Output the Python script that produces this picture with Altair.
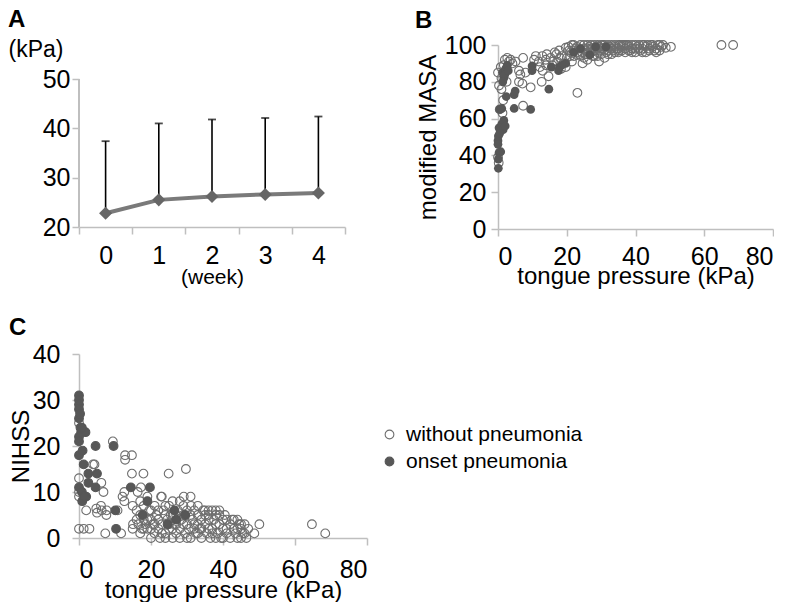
import altair as alt
import pandas as pd

FONT = "Liberation Sans"

# ---------------- Panel A: tongue pressure by week (mean, +SD) ----------------
weeks = ["0", "1", "2", "3", "4"]
tp_mean = [22.8, 25.5, 26.2, 26.6, 26.9]
tp_upper = [37.4, 41.0, 41.8, 42.1, 42.4]

# ---------------- Panel B: tongue pressure vs modified MASA ----------------
b_open = [(0, 85), (0.3, 78), (0.5, 65), (0, 39), (0.2, 36), (1.0, 76), (1.5, 70), (1.3, 63),
          (0.8, 88), (1.7, 89), (2.0, 92), (2.7, 93), (3.2, 91), (3.7, 92), (4.2, 90), (5.1, 91),
          (2.5, 80), (1.0, 82), (6.1, 86), (6.1, 80), (7.1, 79), (7.3, 93), (7.3, 67), (9.5, 77),
          (6.5, 84), (8, 85), (11, 94), (12.9, 94), (11.9, 91), (13.9, 92), (12.7, 80), (14.7, 83),
          (15.3, 93), (10.5, 92), (12.2, 88), (14.2, 95), (15.8, 89), (17, 95), (17.8, 97),
          (19.7, 98.5), (18.3, 87), (19.7, 88), (17.2, 91), (20.7, 97), (22.1, 94), (23.6, 95),
          (24.6, 90), (23.1, 74), (21, 96), (22.5, 98), (20, 93), (18.5, 94), (16.5, 96), (23, 99),
          (24, 100), (25, 98), (21.5, 91), (19, 90), (25.5, 97), (26, 100), (26.5, 99), (27, 100),
          (27.5, 98), (28, 100), (28.5, 97), (29, 100), (29.4, 91), (29.5, 99), (30, 100),
          (30.5, 98), (31, 100), (31.5, 96), (32, 100), (32.5, 99), (33, 100), (33.5, 97),
          (34, 100), (34.5, 98), (35, 100), (26, 95), (28, 94), (30, 95), (27, 96), (25, 93),
          (32, 97), (34, 96), (35.2, 97), (35.5, 100), (36, 99), (36.5, 100), (37, 98), (37.5, 100),
          (38, 99), (38.5, 97), (39, 100), (39.1, 98), (40, 100), (40.5, 99), (41, 100), (41.5, 97),
          (42, 98), (42.5, 100), (43, 99), (43.5, 100), (44, 98), (44.5, 100), (45, 99), (45.5, 97),
          (46, 96), (46.5, 100), (47, 100), (47.5, 99), (48, 100), (48.8, 98.5), (50.3, 99),
          (37, 96), (40, 96), (43, 96), (65, 100), (68.4, 100),
          (20.5, 99), (21.5, 100), (22, 97), (23.5, 98), (24.5, 96), (25, 100), (26, 98),
          (26.5, 96), (27, 98), (28, 97), (28.5, 99), (29, 96), (29.5, 97), (30, 98), (30.5, 100),
          (31, 97), (31.5, 99), (32, 95), (33, 98), (34, 99), (35, 98), (36, 97), (36, 100),
          (37, 100), (38, 97), (38, 100), (39, 96), (40, 98), (41, 98), (42, 100), (42, 96),
          (44, 97), (45, 100), (46, 98), (47, 97), (22, 100), (23, 96), (24, 94), (25.5, 95),
          (27.5, 94), (29, 94), (26, 92), (31, 93), (33, 95), (35, 96), (21, 94), (18, 93),
          (16, 91), (14, 89), (13, 86)]
b_fill = [(0.1, 33), (0.3, 41.5), (0.8, 42), (0.1, 38), (0, 48), (0.1, 50.5), (0.3, 55), (1.1, 57),
          (1.7, 59), (1.5, 54), (0.5, 65), (1.1, 65.5), (4.7, 65.5), (9.5, 65), (2.4, 72), (4.7, 73),
          (5.0, 75), (14.8, 76), (9.9, 88.6), (9.9, 86), (1.7, 82), (1.3, 85), (2.2, 87), (2.7, 89),
          (2.0, 84), (1.4, 80), (3, 86), (15.5, 88), (17.9, 88), (19.7, 90), (18.5, 89),
          (26.7, 94.6), (28.4, 99), (31.4, 99), (22, 96), (24, 98), (0.5, 52), (0, 46), (2.1, 56),
          (17.6, 86)]

# ---------------- Panel C: tongue pressure vs NIHSS ----------------
c_open = [(0, 25), (0, 13), (0, 10), (0, 9), (0, 2), (1.3, 2), (2.9, 2), (3.9, 16), (4.3, 16),
          (6.2, 12), (6.8, 10), (2, 6), (4.8, 6.4), (6.3, 6), (7.6, 5), (5, 5.5), (7.3, 1), (7.7, 6),
          (6.1, 7), (9.4, 21), (10.7, 6), (11.7, 1), (12.1, 9), (12.6, 10), (12.6, 8), (12.8, 18),
          (12.8, 17), (14.7, 18), (14.7, 14), (17.9, 14), (14.9, 7), (14.9, 2), (16.3, 10),
          (17.2, 11), (22.8, 9), (24.9, 14), (29.7, 15), (29.1, 9), (31.1, 7), (16, 4), (16.5, 3),
          (17, 5), (17.5, 2), (18, 4), (18.5, 3), (19, 2), (19.5, 6), (20, 4), (20.5, 3), (21, 1),
          (21.5, 5), (22, 2), (22.5, 0), (23, 3), (23.5, 6), (24, 1), (24.5, 4), (25, 2), (25.5, 5),
          (26, 0), (26.5, 3), (27, 1), (27.5, 6), (28, 2), (28.5, 4), (29, 3), (29.5, 1), (30, 6),
          (30.5, 2), (31, 0), (31.5, 4), (32, 3), (32.5, 1), (33, 5), (33.5, 2), (34, 0), (34.5, 6),
          (35, 3), (35.5, 1), (36, 5), (36.5, 0), (37, 2), (37.5, 4), (38, 6), (38.5, 1), (39, 3),
          (39.5, 0), (40, 2), (40.5, 5), (41, 1), (42, 0), (42.5, 4), (43, 2), (43.5, 1), (44, 0),
          (44.5, 3), (45, 2), (45.5, 1), (46, 3), (46.5, 0), (48.7, 1), (50.1, 3), (64.7, 3),
          (68.4, 1), (22, 6), (26, 5), (34, 4), (38, 5), (18, 7), (24, 7), (28, 8), (36, 6), (15, 3),
          (20, 2), (27, 3), (33, 1), (41, 4), (44, 2),
          (16, 6), (17, 1), (18, 2), (19, 4), (20, 6), (21, 3), (22, 4), (23, 1), (24, 5), (25, 3),
          (26, 2), (27, 5), (28, 0), (29, 5), (30, 3), (31, 5), (32, 2), (33, 3), (34, 2), (35, 5),
          (36, 2), (37, 1), (38, 3), (39, 5), (40, 4), (41, 2), (42, 3), (43, 4), (44, 4), (45, 3),
          (46, 1), (47, 2), (35, 6), (37, 6), (39, 6), (29, 7), (32, 6), (25, 7), (21, 7), (17, 8),
          (19, 9), (23, 9), (26, 8), (31, 9), (33, 7), (36, 4), (40, 0), (45, 0), (38, 0), (30, 0),
          (24, 0), (20, 0)]
c_fill = [(0, 31), (0, 30), (0, 29), (0, 28), (0, 26), (0.4, 24), (0.6, 23), (1.8, 23), (0.8, 24),
          (0, 22), (0, 21), (0, 18), (1, 19), (1.3, 16), (2.6, 14), (5, 14), (4.6, 20), (9.6, 20),
          (2.6, 12), (4.6, 11), (0, 11), (0.8, 10), (2, 9), (0.9, 8), (14.4, 11), (19.7, 11),
          (19, 8), (10.1, 6), (17.7, 5), (10.3, 2), (26.5, 6), (27, 4), (24.6, 3), (29.5, 5),
          (1.5, 9), (0.3, 27)]

groups = ["without pneumonia", "onset pneumonia"]
x_ticks = [0, 20, 40, 60, 80]

OPEN_COL = "#6e6e6e"
FILL_COL = "#575757"
AXIS_COL = "#bfbfbf"
PT_SIZE = 76

# ---------------- Panel A ----------------
dfA = pd.DataFrame({"week": weeks, "mean": tp_mean, "upper": tp_upper})
WA, HA = 266, 182
xA = alt.X("week:N", sort=weeks, scale=alt.Scale(paddingInner=0, paddingOuter=0),
           axis=alt.Axis(title="(week)", labelAngle=0, tickBand="extent", tickSize=7,
                         labelPadding=9, titleX=WA / 2, titleY=50, titleBaseline="middle",
                         titleFontSize=21))
# plot area extends above 50 so that the panel tops line up with panel B
yA_scale = alt.Scale(domain=[20, 56.9])
yA_axis = alt.Axis(values=[20, 30, 40, 50], title="(kPa)", titleAngle=0, titleAlign="left",
                   titleBaseline="middle", titleX=-71, titleY=4, titleFontSize=23,
                   tickSize=7, labelPadding=2, domain=False)

axis_line = alt.Chart(dfA).mark_rule(color=AXIS_COL, strokeWidth=1.5).encode(
    x=alt.value(0),
    y=alt.Y(datum=20, scale=yA_scale, axis=yA_axis),
    y2=alt.datum(50))
rule = alt.Chart(dfA).mark_rule(color="black", strokeWidth=1.6).encode(
    x=xA, y=alt.Y("mean:Q", scale=yA_scale, axis=yA_axis), y2="upper:Q")
cap = alt.Chart(dfA).mark_tick(color="black", thickness=1.8, size=8).encode(
    x=xA, y=alt.Y("upper:Q", scale=yA_scale, axis=yA_axis))
line = alt.Chart(dfA).mark_line(color="#7a7a7a", strokeWidth=4).encode(
    x=xA, y=alt.Y("mean:Q", scale=yA_scale, axis=yA_axis))
pts = alt.Chart(dfA).mark_point(shape="diamond", filled=True, size=170, color="#666666",
                                opacity=1).encode(
    x=xA, y=alt.Y("mean:Q", scale=yA_scale, axis=yA_axis))

chartA = alt.layer(axis_line, rule, cap, line, pts).properties(
    width=WA, height=HA,
    title=alt.TitleParams("A", anchor="start", frame="group", dx=-71, offset=6))

# ---------------- Panel B ----------------
WB, HB = 275, 184
dfB_open = pd.DataFrame(b_open, columns=["tp", "masa"])
dfB_fill = pd.DataFrame(b_fill, columns=["tp", "masa"])
xB = alt.X("tp:Q", scale=alt.Scale(domain=[0, 80]),
           axis=alt.Axis(values=x_ticks, title="tongue pressure (kPa)", tickSize=7, labelPadding=8,
                         titleX=WB / 2, titleY=47, titleBaseline="middle"))
yB = alt.Y("masa:Q", scale=alt.Scale(domain=[0, 100]),
           axis=alt.Axis(values=[0, 20, 40, 60, 80, 100], title="modified MASA", tickSize=7,
                         labelPadding=5, titleX=-70, titleY=HB / 2, titleBaseline="middle"))
openB = alt.Chart(dfB_open).mark_point(size=PT_SIZE, color=OPEN_COL, strokeWidth=1.1, opacity=1,
                                       filled=False).encode(x=xB, y=yB)
fillB = alt.Chart(dfB_fill).mark_circle(size=PT_SIZE, color=FILL_COL, opacity=1).encode(x=xB, y=yB)
chartB = alt.layer(openB, fillB).properties(
    width=WB, height=HB,
    title=alt.TitleParams("B", anchor="start", frame="group", dx=-83, offset=0))

# ---------------- Panel C ----------------
WC, HC = 288, 184
dfC = pd.concat([
    pd.DataFrame(c_open, columns=["tp", "nihss"]).assign(group=groups[0]),
    pd.DataFrame(c_fill, columns=["tp", "nihss"]).assign(group=groups[1]),
], ignore_index=True)
leg = alt.Legend(title=None, orient="none", legendX=300, legendY=70, labelFont=FONT,
                 labelFontSize=21, labelColor="black", labelLimit=0, symbolSize=PT_SIZE,
                 symbolStrokeWidth=1.1, symbolType="circle", labelOffset=6, rowPadding=5,
                 padding=0)
chartC = alt.Chart(dfC).mark_point(size=PT_SIZE, strokeWidth=1.1, opacity=1).encode(
    x=alt.X("tp:Q", scale=alt.Scale(domain=[0, 80]),
            axis=alt.Axis(values=x_ticks, title="tongue pressure (kPa)", tickSize=7,
                          labelPadding=12, titleX=WC / 2, titleY=52, titleBaseline="middle")),
    y=alt.Y("nihss:Q", scale=alt.Scale(domain=[0, 40]),
            axis=alt.Axis(values=[0, 10, 20, 30, 40], title="NIHSS", tickSize=7, labelPadding=12,
                          titleX=-58, titleY=HC / 2, titleBaseline="middle")),
    fill=alt.Fill("group:N", scale=alt.Scale(domain=groups, range=["transparent", FILL_COL]),
                  legend=leg),
    stroke=alt.Stroke("group:N", scale=alt.Scale(domain=groups, range=[OPEN_COL, FILL_COL]),
                      legend=leg),
).properties(
    width=WC, height=HC,
    title=alt.TitleParams("C", anchor="start", frame="group", dx=-70, offset=2))

chart = alt.vconcat(
    alt.hconcat(chartA, chartB, spacing=69),
    chartC,
    spacing=28,
).resolve_scale(fill="independent", stroke="independent").resolve_legend(
    fill="independent", stroke="independent"
).properties(padding=0).configure_view(stroke=None).configure_axis(
    domainColor=AXIS_COL, tickColor=AXIS_COL, domainWidth=1.5, tickWidth=1.5,
    labelFont=FONT, titleFont=FONT, labelFontSize=25, titleFontSize=24,
    labelColor="black", titleColor="black", titleFontWeight="normal", grid=False,
).configure_title(font=FONT, fontSize=24, fontWeight="bold", color="black", anchor="start")

chart.save("out.html", embed_options={"renderer": "svg", "actions": False})
